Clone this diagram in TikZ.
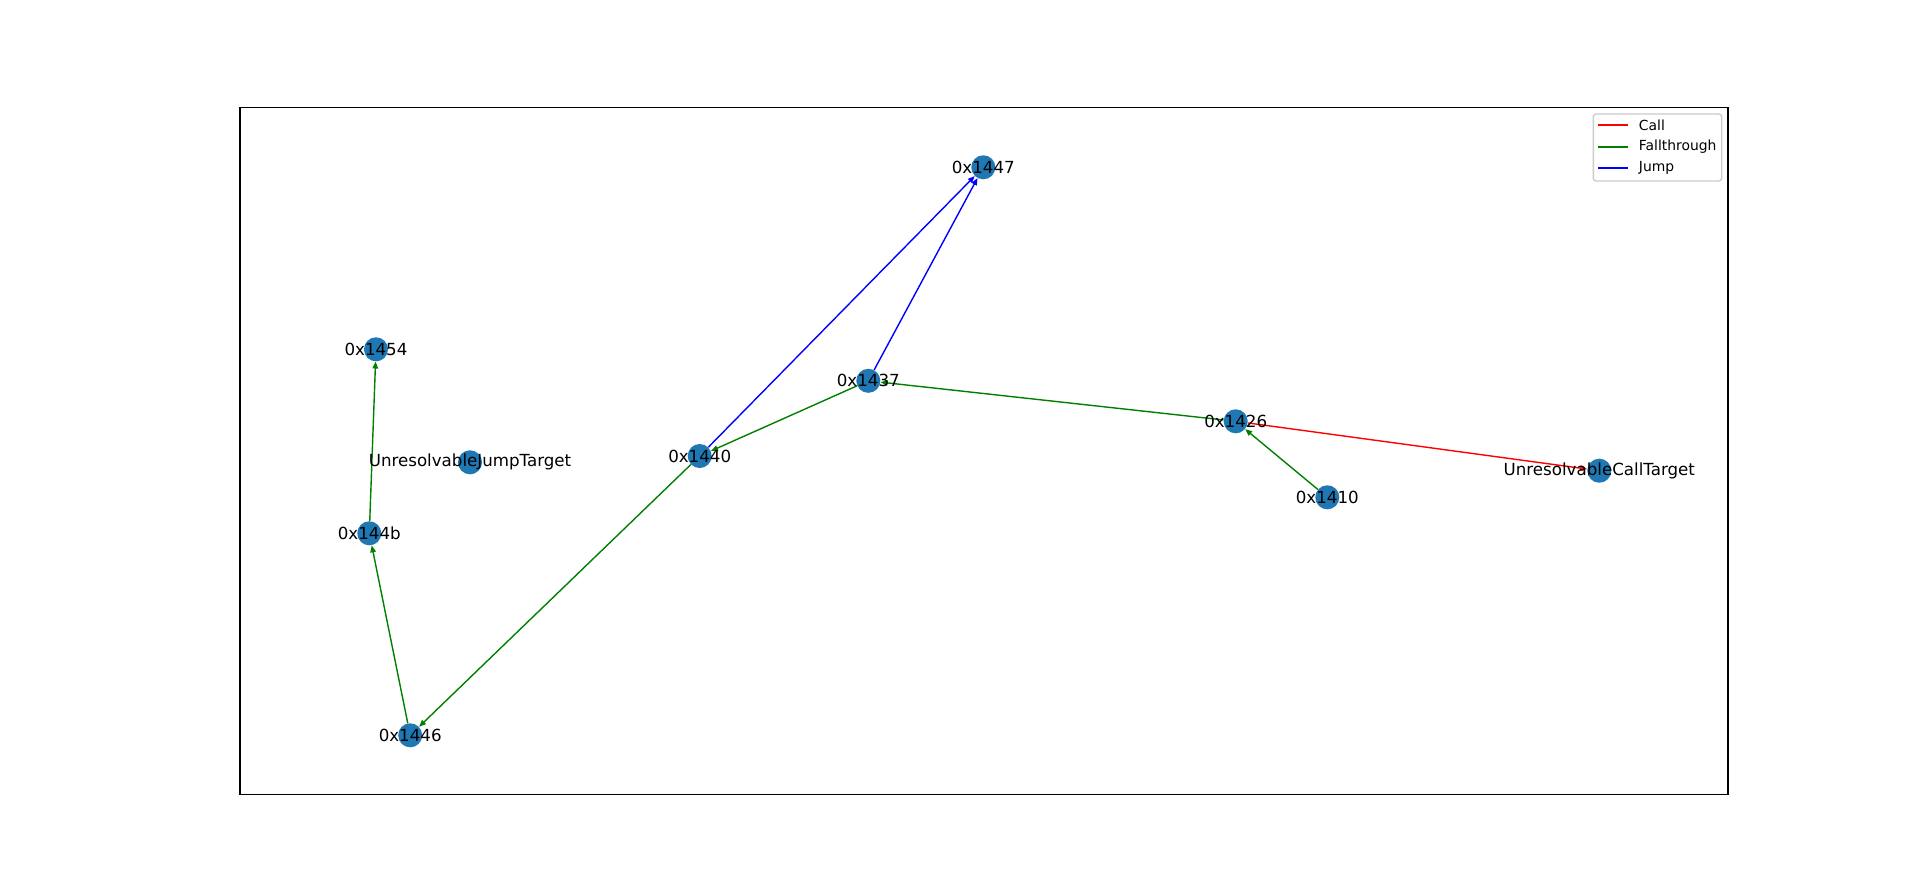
\documentclass[tikz,border=0pt]{standalone}
\usepackage{fontspec}
\setmainfont{DejaVu Sans}
\usetikzlibrary{arrows.meta}
\definecolor{nodeblue}{HTML}{1F77B4}
\definecolor{fallgreen}{HTML}{008000}
\definecolor{calred}{HTML}{FF0000}
\definecolor{jumpblue}{HTML}{0000FF}
\definecolor{legframe}{HTML}{CCCCCC}
\begin{document}
\begin{tikzpicture}[x=0.72pt,y=-0.72pt,
  vnode/.style={circle,fill=nodeblue,minimum size=17.3pt,inner sep=0pt},
  lbl/.style={font=\fontsize{12}{14}\selectfont,inner sep=0pt,anchor=center},
  edge/.style={line width=1pt,-{Triangle[length=5pt,width=4pt]}},
  fall/.style={edge,draw=fallgreen,fill=fallgreen},
  call/.style={edge,draw=calred,fill=calred},
  jump/.style={edge,draw=jumpblue,fill=jumpblue},
  legtext/.style={font=\fontsize{10}{12}\selectfont,inner sep=0pt,anchor=west}]
\useasboundingbox (0,0) rectangle (1920,893);
\fill[white] (0,0) rectangle (1920,893);
% axes frame
\draw[line width=0.8pt,black] (240,107.2) rectangle (1728,794.8);
% nodes
\node[vnode] (n1454) at (376,349.3) {};
\node[vnode] (nujt)  at (470,462.3) {};
\node[vnode] (n144b) at (369.3,533.3) {};
\node[vnode] (n1447) at (983.3,167.3) {};
\node[vnode] (n1437) at (868.3,380.8) {};
\node[vnode] (n1440) at (699.7,456) {};
\node[vnode] (n1426) at (1235.7,421.3) {};
\node[vnode] (nuct)  at (1599.3,470.7) {};
\node[vnode] (n1410) at (1327.3,497.3) {};
\node[vnode] (n1446) at (410.2,735.3) {};
% edges
\draw[fall] (n1410) -- (n1426);
\draw[call] (n1426) -- (nuct);
\draw[fall] (n1426) -- (n1437);
\draw[jump] (n1437) -- (n1447);
\draw[fall] (n1437) -- (n1440);
\draw[jump] (n1440) -- (n1447);
\draw[fall] (n1440) -- (n1446);
\draw[fall] (n1446) -- (n144b);
\draw[fall] (n144b) -- (n1454);
% labels
\node[lbl] (l1454) at (n1454) {0x1454};
\node[lbl] (lujt)  at (nujt) {UnresolvableJumpTarget};
\node[lbl] (l144b) at (n144b) {0x144b};
\node[lbl] (l1447) at (n1447) {0x1447};
\node[lbl] (l1437) at (n1437) {0x1437};
\node[lbl] (l1440) at (n1440) {0x1440};
\node[lbl] (l1426) at (n1426) {0x1426};
\node[lbl] (luct)  at (nuct) {UnresolvableCallTarget};
\node[lbl] (l1410) at (n1410) {0x1410};
\node[lbl] (l1446) at (n1446) {0x1446};
% legend
\node[draw=legframe,fill=white,fill opacity=0.8,draw opacity=1,line width=1pt,rounded corners=2pt,
      minimum width=128.4*0.72pt,minimum height=67*0.72pt,inner sep=0pt] (legend) at (1657.5,147.5) {};
\coordinate (c1a) at (1598.3,125.3); \coordinate (c1b) at (1628.3,125.3);
\coordinate (c2a) at (1598.3,147);   \coordinate (c2b) at (1628.3,147);
\coordinate (c3a) at (1598.3,168.3); \coordinate (c3b) at (1628.3,168.3);
\draw[calred,line width=1.5pt] (c1a) -- (c1b);
\draw[fallgreen,line width=1.5pt] (c2a) -- (c2b);
\draw[jumpblue,line width=1.5pt] (c3a) -- (c3b);
\node[legtext] (t1) at (1638.7,125.3) {Call};
\node[legtext] (t2) at (1638.7,147) {Fallthrough};
\node[legtext] (t3) at (1638.7,168.3) {Jump};
\end{tikzpicture}
\end{document}
